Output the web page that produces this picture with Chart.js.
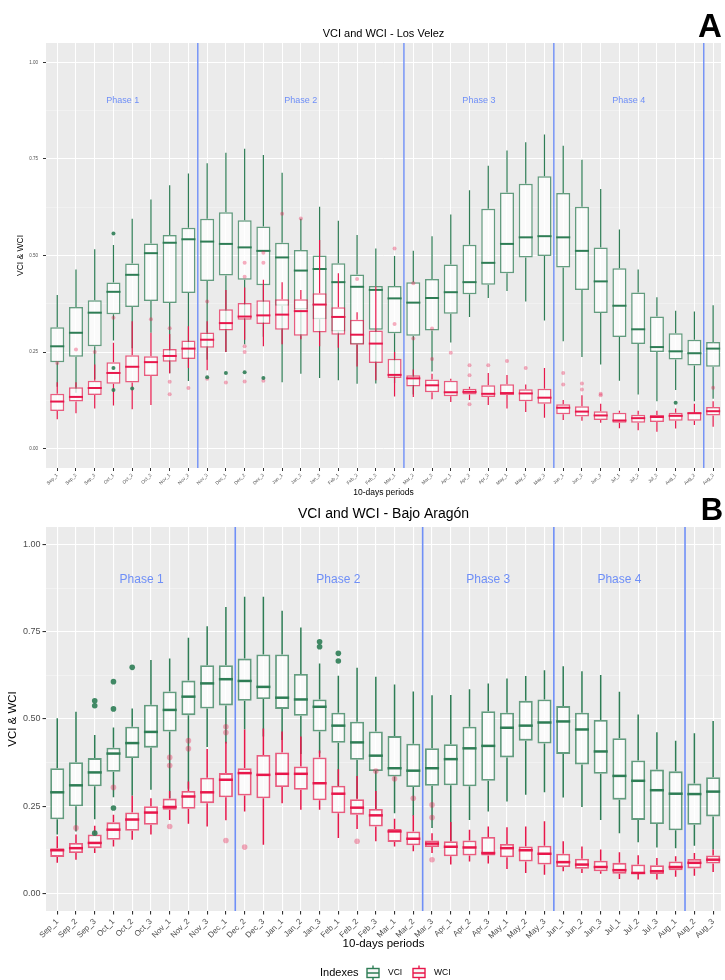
<!DOCTYPE html>
<html>
<head>
<meta charset="utf-8">
<script src="https://cdn.jsdelivr.net/npm/chart.js@4.4.1/dist/chart.umd.min.js"></script>
<style>
  html, body { margin: 0; padding: 0; background: #fff; }
  body { width: 725px; height: 980px; overflow: hidden; position: relative; }
  canvas { position: absolute; left: 0; }
  #velez { top: 0; }
  #aragon { top: 485px; }
</style>
</head>
<body>
<canvas id="velez" width="725" height="500"></canvas>
<canvas id="aragon" width="725" height="495"></canvas>
<script>
// ---- categories and axis ticks ----
const periods = ['Sep_1','Sep_2','Sep_3','Oct_1','Oct_2','Oct_3','Nov_1','Nov_2','Nov_3',
  'Dec_1','Dec_2','Dec_3','Jan_1','Jan_2','Jan_3','Feb_1','Feb_2','Feb_3','Mar_1','Mar_2','Mar_3',
  'Apr_1','Apr_2','Apr_3','May_1','May_2','May_3','Jun_1','Jun_2','Jun_3','Jul_1','Jul_2','Jul_3',
  'Aug_1','Aug_2','Aug_3'];
const yMajor = [0, 0.25, 0.5, 0.75, 1];
const yMinor = [0.125, 0.375, 0.625, 0.875];
const phaseNames = ['Phase 1', 'Phase 2', 'Phase 3', 'Phase 4'];

// ---- Los Velez: VCI box statistics ----
const velezVciLow  = [0.16,0.145,0.18,0.28,0.26,0.30,0.195,0.175,0.23,0.25,0.27,0.29,0.172,0.194,0.183,0.177,0.168,0.169,0.17,0.14,0.20,0.275,0.341,0.39,0.408,0.381,0.332,0.278,0.237,0.218,0.176,0.14,0.123,0.152,0.123,0.129];
const velezVciQ1   = [0.224,0.238,0.265,0.348,0.367,0.382,0.377,0.403,0.434,0.448,0.437,0.423,0.37,0.36,0.335,0.303,0.27,0.308,0.299,0.292,0.306,0.349,0.40,0.424,0.454,0.495,0.499,0.469,0.411,0.351,0.289,0.271,0.25,0.231,0.215,0.212];
const velezVciMed  = [0.265,0.300,0.352,0.406,0.45,0.506,0.533,0.542,0.536,0.53,0.521,0.512,0.495,0.461,0.465,0.431,0.419,0.411,0.389,0.378,0.39,0.405,0.431,0.481,0.53,0.547,0.55,0.547,0.512,0.433,0.37,0.309,0.263,0.252,0.247,0.259];
const velezVciQ3   = [0.314,0.367,0.384,0.43,0.479,0.531,0.553,0.572,0.595,0.612,0.591,0.575,0.533,0.514,0.5,0.48,0.451,0.421,0.421,0.431,0.439,0.477,0.528,0.621,0.663,0.686,0.705,0.662,0.626,0.521,0.467,0.404,0.342,0.299,0.282,0.276];
const velezVciHigh = [0.398,0.464,0.516,0.527,0.595,0.645,0.682,0.712,0.739,0.766,0.776,0.76,0.714,0.595,0.626,0.59,0.553,0.518,0.499,0.512,0.55,0.606,0.669,0.732,0.772,0.793,0.813,0.784,0.748,0.672,0.567,0.464,0.392,0.357,0.355,0.371];
const velezVciOutliers = [['Oct_1',0.557],['Oct_1',0.209],['Oct_1',0.152],['Oct_2',0.156],['Nov_3',0.185],
  ['Dec_1',0.196],['Dec_2',0.198],['Dec_3',0.183],['Aug_1',0.119]];

// ---- Los Velez: WCI box statistics ----
const velezWciLow  = [0.076,0.092,0.104,0.112,0.102,0.113,0.195,0.209,0.203,0.25,0.282,0.265,0.27,0.283,0.265,0.261,0.213,0.177,0.135,0.134,0.128,0.121,0.126,0.113,0.104,0.095,0.08,0.074,0.072,0.067,0.053,0.048,0.044,0.052,0.061,0.057];
const velezWciQ1   = [0.0975,0.122,0.139,0.168,0.171,0.188,0.225,0.232,0.261,0.306,0.334,0.323,0.308,0.292,0.301,0.295,0.269,0.222,0.183,0.161,0.146,0.136,0.14,0.134,0.139,0.123,0.116,0.089,0.083,0.074,0.067,0.067,0.069,0.072,0.072,0.086];
const velezWciMed  = [0.122,0.134,0.157,0.196,0.212,0.224,0.24,0.259,0.282,0.325,0.342,0.345,0.347,0.356,0.373,0.341,0.295,0.272,0.191,0.182,0.164,0.146,0.147,0.142,0.144,0.143,0.132,0.106,0.096,0.086,0.073,0.079,0.082,0.085,0.092,0.097];
const velezWciQ3   = [0.142,0.159,0.176,0.224,0.242,0.239,0.258,0.28,0.301,0.361,0.377,0.384,0.387,0.387,0.402,0.366,0.334,0.306,0.233,0.19,0.179,0.176,0.155,0.164,0.167,0.154,0.155,0.115,0.11,0.097,0.093,0.088,0.087,0.093,0.093,0.108];
const velezWciHigh = [0.172,0.172,0.218,0.274,0.33,0.3,0.297,0.317,0.33,0.411,0.417,0.437,0.431,0.411,0.54,0.454,0.353,0.42,0.25,0.205,0.194,0.181,0.16,0.196,0.191,0.166,0.209,0.126,0.138,0.116,0.098,0.098,0.098,0.104,0.116,0.123];
const velezWciOutliers = [['Sep_1',0.222],['Sep_2',0.257],['Sep_3',0.25],['Oct_1',0.339],['Oct_3',0.335],
  ['Nov_1',0.312],['Nov_1',0.173],['Nov_1',0.141],['Nov_2',0.157],['Nov_3',0.381],['Nov_3',0.181],
  ['Dec_1',0.171],['Dec_2',0.481],['Dec_2',0.445],['Dec_2',0.265],['Dec_2',0.25],['Dec_2',0.174],
  ['Dec_3',0.507],['Dec_3',0.481],['Dec_3',0.176],['Jan_1',0.608],['Jan_2',0.596],['Feb_2',0.439],
  ['Mar_1',0.518],['Mar_1',0.323],['Mar_2',0.428],['Mar_2',0.285],['Mar_3',0.311],['Mar_3',0.232],
  ['Apr_1',0.248],['Apr_2',0.216],['Apr_2',0.19],['Apr_2',0.115],['Apr_3',0.216],['May_1',0.227],
  ['May_2',0.209],['Jun_1',0.196],['Jun_1',0.166],['Jun_2',0.169],['Jun_2',0.153],['Jun_3',0.142],
  ['Jun_3',0.138],['Aug_3',0.158]];

// ---- Bajo Aragón: VCI box statistics ----
const aragonVciLow  = [0.169,0.178,0.213,0.276,0.28,0.297,0.273,0.3,0.42,0.43,0.47,0.45,0.44,0.4,0.402,0.307,0.273,0.242,0.23,0.223,0.188,0.15,0.211,0.235,0.264,0.283,0.29,0.275,0.248,0.211,0.173,0.147,0.132,0.13,0.137,0.126];
const aragonVciQ1   = [0.213,0.25,0.307,0.349,0.388,0.418,0.464,0.511,0.53,0.539,0.552,0.557,0.529,0.509,0.464,0.432,0.383,0.351,0.335,0.305,0.309,0.31,0.307,0.323,0.39,0.438,0.43,0.4,0.37,0.343,0.269,0.211,0.199,0.181,0.197,0.221];
const aragonVciMed  = [0.29,0.31,0.347,0.401,0.431,0.463,0.526,0.564,0.602,0.614,0.609,0.592,0.561,0.556,0.535,0.481,0.433,0.395,0.359,0.352,0.359,0.385,0.416,0.423,0.475,0.481,0.49,0.493,0.47,0.407,0.337,0.323,0.296,0.286,0.285,0.292];
const aragonVciQ3   = [0.359,0.376,0.388,0.418,0.478,0.541,0.579,0.61,0.654,0.654,0.673,0.685,0.685,0.629,0.556,0.518,0.492,0.464,0.451,0.429,0.416,0.428,0.478,0.522,0.518,0.552,0.556,0.537,0.518,0.497,0.445,0.381,0.355,0.35,0.315,0.333];
const aragonVciHigh = [0.502,0.521,0.454,0.476,0.53,0.669,0.673,0.733,0.766,0.821,0.85,0.85,0.81,0.762,0.659,0.624,0.647,0.621,0.599,0.579,0.568,0.569,0.585,0.602,0.616,0.623,0.64,0.651,0.637,0.626,0.578,0.513,0.462,0.438,0.459,0.494];
const aragonVciOutliers = [['Sep_3',0.552],['Sep_3',0.538],['Sep_3',0.173],['Oct_1',0.607],['Oct_1',0.529],
  ['Oct_1',0.245],['Oct_2',0.648],['Jan_3',0.721],['Jan_3',0.707],['Feb_1',0.688],['Feb_1',0.666]];

// ---- Bajo Aragón: WCI box statistics ----
const aragonWciLow  = [0.088,0.097,0.116,0.135,0.154,0.169,0.211,0.2,0.192,0.21,0.235,0.14,0.259,0.24,0.24,0.159,0.185,0.15,0.135,0.121,0.116,0.083,0.092,0.086,0.07,0.059,0.054,0.064,0.059,0.057,0.042,0.04,0.04,0.048,0.051,0.062];
const aragonWciQ1   = [0.105,0.116,0.13,0.154,0.18,0.197,0.24,0.243,0.259,0.276,0.281,0.273,0.305,0.297,0.267,0.23,0.226,0.192,0.148,0.138,0.133,0.107,0.109,0.109,0.104,0.092,0.083,0.076,0.071,0.064,0.057,0.056,0.056,0.067,0.072,0.086];
const aragonWciMed  = [0.124,0.13,0.145,0.183,0.212,0.232,0.248,0.278,0.29,0.326,0.345,0.34,0.343,0.343,0.316,0.286,0.246,0.224,0.178,0.157,0.143,0.134,0.132,0.116,0.13,0.124,0.114,0.09,0.083,0.076,0.067,0.059,0.064,0.076,0.088,0.097];
const aragonWciQ3   = [0.13,0.145,0.169,0.204,0.232,0.25,0.272,0.294,0.332,0.345,0.359,0.397,0.404,0.364,0.39,0.309,0.27,0.242,0.185,0.178,0.152,0.15,0.152,0.162,0.142,0.135,0.137,0.114,0.1,0.094,0.088,0.083,0.081,0.092,0.099,0.109];
const aragonWciHigh = [0.164,0.169,0.194,0.226,0.28,0.273,0.294,0.321,0.414,0.435,0.47,0.473,0.464,0.45,0.41,0.356,0.337,0.294,0.214,0.224,0.173,0.205,0.183,0.192,0.19,0.192,0.207,0.15,0.135,0.126,0.118,0.11,0.102,0.107,0.116,0.126];
const aragonWciOutliers = [['Sep_2',0.188],['Oct_1',0.304],['Nov_1',0.39],['Nov_1',0.367],['Nov_1',0.192],
  ['Nov_2',0.438],['Nov_2',0.415],['Dec_1',0.478],['Dec_1',0.461],['Dec_1',0.152],['Dec_2',0.133],
  ['Feb_2',0.15],['Feb_3',0.351],['Mar_1',0.329],['Mar_2',0.273],['Mar_3',0.254],['Mar_3',0.218],['Mar_3',0.097]];

// ---- phases: boundaries (between categories) and label centres, in category units ----
const velezPhaseBreaks  = [7.5, 18.5, 26.5, 34.5];
const velezPhaseCentres = [3.5, 13, 22.5, 30.5];
const aragonPhaseBreaks  = [9.5, 19.5, 26.5, 33.5];
const aragonPhaseCentres = [4.5, 15, 23, 30];
const phaseLabelLevel = 0.9;

// ---- styling ----
const FONT = '"Liberation Sans", Arial, Helvetica, sans-serif';
const GREEN = '#2e7d55';
const GREEN_EDGE = 'rgba(46,125,85,0.72)';
const RED = '#e8174b';
const RED_EDGE = 'rgba(232,23,75,0.68)';
const BOX_FILL = 'rgba(255,255,255,0.72)';
const PHASE_BLUE = '#6f8ff7';
const PANEL_BG = '#ebebeb';

Chart.defaults.font.family = FONT;

const boxSeries = (q1, q3) => periods.map((p, i) => ({ x: i, y: [q1[i], q3[i]] }));
const pointSeries = list => list.map(([p, v]) => ({ x: periods.indexOf(p), y: v }));

// background, whiskers/medians, phase markers and all free text
const panelPlugin = {
  id: 'panel',
  beforeDraw(chart) {
    const { ctx, chartArea: a } = chart;
    ctx.save();
    ctx.fillStyle = PANEL_BG;
    ctx.fillRect(a.left, a.top, a.right - a.left, a.bottom - a.top);
    ctx.restore();
  },
  afterDatasetDraw(chart, args, opts) {
    const ds = chart.data.datasets[args.index];
    if (!ds.stats) return;
    const y = chart.scales.y;
    const ctx = chart.ctx;
    const s = ds.stats;
    ctx.save();
    ctx.strokeStyle = ds.lineColor;
    args.meta.data.forEach((bar, i) => {
      const x = bar.x, hw = bar.width / 2;
      ctx.lineWidth = opts.whiskerWidth;
      ctx.beginPath();
      ctx.moveTo(x, y.getPixelForValue(s.q3[i]));
      ctx.lineTo(x, y.getPixelForValue(s.high[i]));
      ctx.moveTo(x, y.getPixelForValue(s.q1[i]));
      ctx.lineTo(x, y.getPixelForValue(s.low[i]));
      ctx.stroke();
      ctx.lineWidth = opts.medianWidth;
      const ym = y.getPixelForValue(s.med[i]);
      ctx.beginPath();
      ctx.moveTo(x - hw, ym);
      ctx.lineTo(x + hw, ym);
      ctx.stroke();
    });
    ctx.restore();
  },
  afterDatasetsDraw(chart, args, opts) {
    const { ctx, chartArea: a, scales: { x, y } } = chart;
    ctx.save();
    ctx.strokeStyle = PHASE_BLUE;
    ctx.lineWidth = opts.breakWidth;
    opts.breaks.forEach(b => {
      const px = x.getPixelForValue(b);
      ctx.beginPath();
      ctx.moveTo(px, a.top);
      ctx.lineTo(px, a.bottom);
      ctx.stroke();
    });
    ctx.fillStyle = PHASE_BLUE;
    ctx.font = opts.phaseFont + 'px ' + FONT;
    ctx.textAlign = 'center';
    ctx.textBaseline = 'middle';
    opts.centres.forEach((c, i) => {
      ctx.fillText(phaseNames[i], x.getPixelForValue(c), y.getPixelForValue(phaseLabelLevel));
    });
    ctx.restore();
  },
  afterDraw(chart, args, opts) {
    const { ctx, chartArea: a } = chart;
    const midX = (a.left + a.right) / 2;
    ctx.save();
    ctx.fillStyle = '#000';
    ctx.textAlign = 'center';
    ctx.textBaseline = 'middle';
    ctx.font = opts.titleFont + 'px ' + FONT;
    ctx.fillText(opts.title, midX, opts.titleY);
    ctx.font = opts.axisFont + 'px ' + FONT;
    ctx.fillText('10-days periods', midX, opts.xTitleY);
    ctx.save();
    ctx.translate(opts.yTitleX, (a.top + a.bottom) / 2);
    ctx.rotate(-Math.PI / 2);
    ctx.fillText('VCI & WCI', 0, 0);
    ctx.restore();
    ctx.font = 'bold ' + opts.letterFont + 'px ' + FONT;
    ctx.textBaseline = 'alphabetic';
    ctx.fillText(opts.letter, opts.letterX, opts.letterY);
    if (opts.legend) {
      const L = opts.legend;
      ctx.textAlign = 'left';
      ctx.textBaseline = 'middle';
      ctx.font = L.titleFont + 'px ' + FONT;
      ctx.fillStyle = '#000';
      ctx.fillText('Indexes', L.x, L.y);
      const items = [['VCI', GREEN], ['WCI', RED]];
      let cx = L.keyX;
      items.forEach(([name, col]) => {
        ctx.fillStyle = '#f7f7f7';
        ctx.fillRect(cx, L.y - 4.5, 12, 9);
        ctx.strokeStyle = col;
        ctx.lineWidth = 1.4;
        ctx.strokeRect(cx, L.y - 4.5, 12, 9);
        ctx.beginPath();
        ctx.moveTo(cx, L.y); ctx.lineTo(cx + 12, L.y);
        ctx.moveTo(cx + 6, L.y - 7.5); ctx.lineTo(cx + 6, L.y - 4.5);
        ctx.moveTo(cx + 6, L.y + 4.5); ctx.lineTo(cx + 6, L.y + 7.5);
        ctx.stroke();
        ctx.fillStyle = '#000';
        ctx.font = L.itemFont + 'px ' + FONT;
        ctx.fillText(name, cx + 21, L.y);
        cx += L.step;
      });
    }
    ctx.restore();
  }
};

function buildPanel(canvasId, d, look) {
  const barCommon = {
    type: 'bar', grouped: false, categoryPercentage: 1, barPercentage: 0.75,
    borderSkipped: false, borderWidth: look.boxEdge, backgroundColor: BOX_FILL
  };
  return new Chart(document.getElementById(canvasId), {
    type: 'bar',
    data: {
      datasets: [
        { type: 'scatter', label: 'VCI outliers', data: pointSeries(d.vciOut), order: 0,
          pointRadius: look.outR, borderWidth: 0, backgroundColor: 'rgba(46,125,85,0.9)' },
        { type: 'scatter', label: 'WCI outliers', data: pointSeries(d.wciOut), order: 0,
          pointRadius: look.outR, borderWidth: 0, backgroundColor: 'rgba(232,23,75,0.35)' },
        Object.assign({}, barCommon, { label: 'WCI', order: 1, data: boxSeries(d.wci.q1, d.wci.q3),
          stats: d.wci, lineColor: RED, borderColor: RED_EDGE }),
        Object.assign({}, barCommon, { label: 'VCI', order: 2, data: boxSeries(d.vci.q1, d.vci.q3),
          stats: d.vci, lineColor: GREEN, borderColor: GREEN_EDGE })
      ]
    },
    options: {
      responsive: false,
      devicePixelRatio: 1,
      animation: false,
      layout: { padding: { top: look.top, left: 0, right: 0, bottom: 0 } },
      plugins: {
        legend: { display: false },
        tooltip: { enabled: false },
        panel: look.panel
      },
      scales: {
        x: {
          type: 'linear', min: -0.6, max: 35.42, offset: false, bounds: 'data',
          afterBuildTicks: s => { s.ticks = periods.map((p, i) => ({ value: i })); },
          afterFit: s => { s.height = look.xAxisH; },
          ticks: { autoSkip: false, minRotation: 45, maxRotation: 45, padding: look.xPad,
            color: '#4d4d4d', font: { size: look.xTickFont }, callback: v => periods[v] },
          grid: { color: '#ffffff', lineWidth: look.gridW, offset: false, drawTicks: true,
            tickLength: look.tickLen, tickColor: '#333333' },
          border: { display: false }
        },
        y: {
          min: -0.05, max: 1.05, bounds: 'data',
          afterBuildTicks: s => { s.ticks = yMajor.concat(yMinor).sort((a, b) => a - b).map(v => ({ value: v })); },
          afterFit: s => { s.width = 46; },
          ticks: { padding: look.yPad, color: '#4d4d4d', font: { size: look.yTickFont },
            callback: v => yMajor.includes(v) ? v.toFixed(2) : '' },
          grid: {
            color: c => (c.tick && yMajor.includes(c.tick.value)) ? '#ffffff' : 'rgba(255,255,255,0.55)',
            lineWidth: c => (c.tick && yMajor.includes(c.tick.value)) ? look.gridW : look.gridW * 0.6,
            tickColor: c => (c.tick && yMajor.includes(c.tick.value)) ? '#333333' : 'rgba(0,0,0,0)',
            tickLength: look.tickLen, drawTicks: true
          },
          border: { display: false }
        }
      }
    },
    plugins: [panelPlugin]
  });
}

buildPanel('velez', {
  vci: { low: velezVciLow, q1: velezVciQ1, med: velezVciMed, q3: velezVciQ3, high: velezVciHigh },
  wci: { low: velezWciLow, q1: velezWciQ1, med: velezWciMed, q3: velezWciQ3, high: velezWciHigh },
  vciOut: velezVciOutliers, wciOut: velezWciOutliers
}, {
  top: 43, xAxisH: 32, xTickFont: 4.7, yTickFont: 4.5, xPad: 1.5, yPad: 5, tickLen: 3, gridW: 1,
  boxEdge: 1.5, outR: 2,
  panel: {
    title: 'VCI and WCI - Los Velez', titleFont: 11, titleY: 34,
    axisFont: 8.5, xTitleY: 493, yTitleX: 21,
    letter: 'A', letterFont: 33, letterX: 710, letterY: 37,
    breaks: velezPhaseBreaks, centres: velezPhaseCentres, phaseFont: 9, breakWidth: 1.4,
    whiskerWidth: 1.2, medianWidth: 2
  }
});

buildPanel('aragon', {
  vci: { low: aragonVciLow, q1: aragonVciQ1, med: aragonVciMed, q3: aragonVciQ3, high: aragonVciHigh },
  wci: { low: aragonWciLow, q1: aragonWciQ1, med: aragonWciMed, q3: aragonWciQ3, high: aragonWciHigh },
  vciOut: aragonVciOutliers, wciOut: aragonWciOutliers
}, {
  top: 42, xAxisH: 69, xTickFont: 8, yTickFont: 9, xPad: 2.5, yPad: 2, tickLen: 3.5, gridW: 1.1,
  boxEdge: 1.8, outR: 2.8,
  panel: {
    title: 'VCI and WCI - Bajo Aragón', titleFont: 14, titleY: 29,
    axisFont: 11.5, xTitleY: 459, yTitleX: 13,
    letter: 'B', letterFont: 31, letterX: 712, letterY: 35,
    breaks: aragonPhaseBreaks, centres: aragonPhaseCentres, phaseFont: 12, breakWidth: 1.6,
    whiskerWidth: 1.5, medianWidth: 2.5,
    legend: { x: 320, y: 488, titleFont: 11, itemFont: 8.5, keyX: 367, step: 46 }
  }
});
</script>
</body>
</html>
